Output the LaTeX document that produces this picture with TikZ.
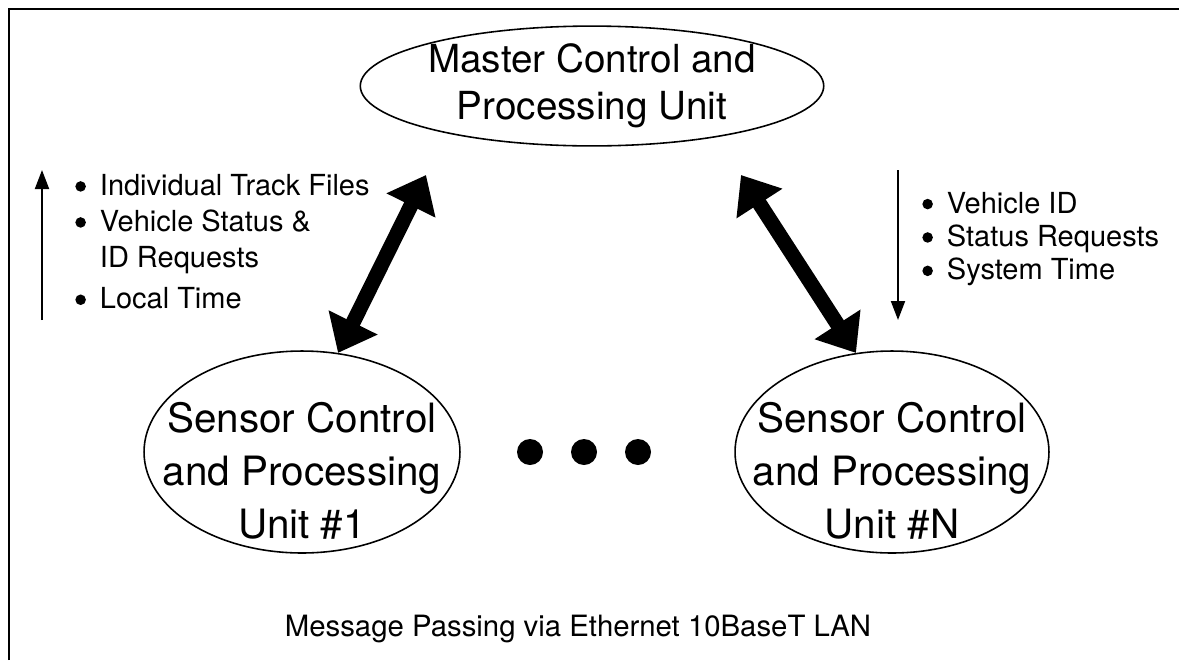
\documentclass[tikz,border=0pt]{standalone}
\usepackage{fontspec}
\setmainfont{TeX Gyre Heros}
\usetikzlibrary{arrows.meta,shapes.geometric}
\newcommand\blt{\tikz[baseline={(0pt,-5.2pt)}]\fill (0pt,0pt) circle (3pt);}
\tikzset{netpanel/.style={
  x=0.02cm, y=-0.02cm,
  unit/.style={ellipse, draw, line width=0.9pt, inner sep=0pt},
  link/.style={{Triangle[length=6.8mm,width=10.5mm]}-{Triangle[length=6.8mm,width=10.5mm]}, line width=8.5pt},
  flowline/.style={-{Triangle[length=3.8mm,width=2.8mm]}, line width=1.1pt},
  frame/.style={line width=1.6pt},
}}

\begin{document}
\begin{tikzpicture}[netpanel,
  mtext/.style={font=\fontsize{22}{27}\selectfont, align=center},
  utext/.style={font=\fontsize{23}{30.3}\selectfont, align=center, inner sep=0pt},
  list/.style={font=\fontsize{16.5}{20.5}\selectfont, anchor=north west, inner sep=0pt},
  dot/.style={circle, fill=black, minimum size=0.52cm, inner sep=0pt},
  caption/.style={font=\fontsize{16.7}{19}\selectfont},
]
\useasboundingbox (0,0) rectangle (1179,660);
\draw[frame] (9,660) |- (1179,9);

% =====================================================================
% master unit
% =====================================================================
\node[unit, minimum width=8.64cm, minimum height=2.28cm, mtext] (master) at (592,86)
  {Master Control and\\Processing Unit};

% =====================================================================
% sensor units
% =====================================================================
\node[unit, minimum width=6.32cm, minimum height=4.04cm] (s1) at (302,452) {};
\node[utext] (s1txt) at (302,471) {Sensor Control\\and Processing\\Unit \#1};
\node[unit, minimum width=6.28cm, minimum height=4.04cm] (sN) at (892,452) {};
\node[utext] (sNtxt) at (892,471) {Sensor Control\\and Processing\\Unit \#N};

\foreach \i/\x in {1/530, 2/584, 3/638}{
  \node[dot] (d\i) at (\x,452) {};
}

% =====================================================================
% LAN links
% =====================================================================
\coordinate (m1) at (426,175);
\coordinate (mN) at (741,175);
\draw[link] (m1) -- (s1.70);
\draw[link] (mN) -- (sN.110);

% =====================================================================
% message lists
% =====================================================================
\coordinate (up0) at (42,320);
\coordinate (up1) at (42,170);
\draw[flowline] (up0) -- (up1);
\node[list] (uplist) at (75,170) {%
  \begin{tabular}{@{}l@{\hspace{8pt}}l@{}}
    \blt & Individual Track Files\\
    \blt & Vehicle Status \&\\
         & ID Requests\\[3pt]
    \blt & Local Time
  \end{tabular}};

\coordinate (dn0) at (898,170);
\coordinate (dn1) at (898,320);
\draw[flowline] (dn0) -- (dn1);
\node[list, font=\fontsize{16.5}{19}\selectfont] (dnlist) at (922,189.5) {%
  \begin{tabular}{@{}l@{\hspace{8pt}}l@{}}
    \blt & Vehicle ID\\
    \blt & Status Requests\\
    \blt & System Time
  \end{tabular}};

\node[caption] (lan) at (578,629) {Message Passing via Ethernet 10BaseT LAN};

\end{tikzpicture}
\end{document}
